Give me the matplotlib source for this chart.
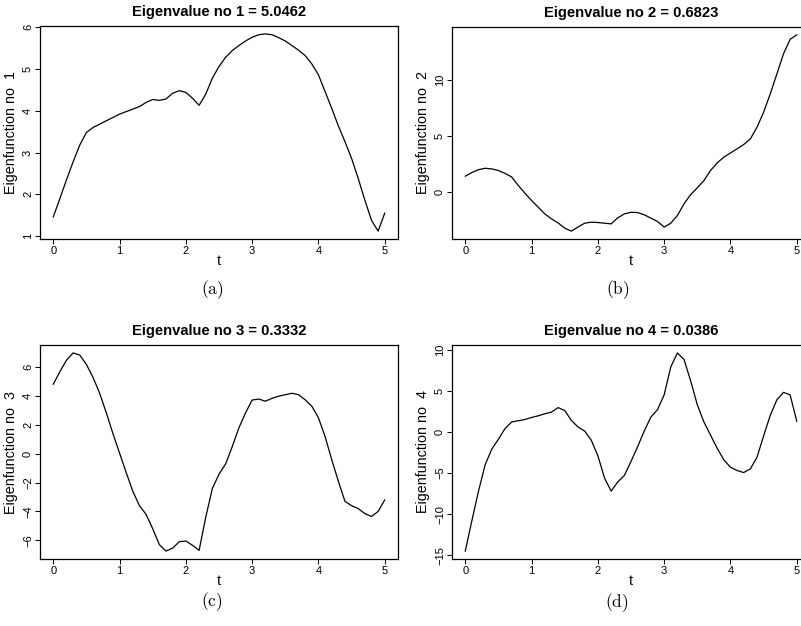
import matplotlib
matplotlib.use('Agg')
import matplotlib.pyplot as plt

plt.rcParams['font.family'] = ['Liberation Sans', 'DejaVu Sans']
plt.rcParams['mathtext.fontset'] = 'cm'

# time grid (every 0.1)
t = [round(0.1 * i, 1) for i in range(51)]

eigenvalues = ['5.0462', '0.6823', '0.3332', '0.0386']
captions = ['(a)', '(b)', '(c)', '(d)']

ef1 = [1.46, 1.90, 2.35, 2.78, 3.18, 3.48, 3.60, 3.68, 3.76, 3.84,
       3.92, 3.98, 4.04, 4.10, 4.20, 4.27, 4.25, 4.28, 4.42, 4.48,
       4.44, 4.30, 4.13, 4.40, 4.78, 5.06, 5.28, 5.44, 5.56, 5.67,
       5.76, 5.82, 5.84, 5.82, 5.75, 5.67, 5.56, 5.45, 5.32, 5.12,
       4.86, 4.46, 4.06, 3.64, 3.26, 2.86, 2.38, 1.86, 1.38, 1.12,
       1.55]
ef2 = [1.37, 1.70, 1.95, 2.08, 2.02, 1.88, 1.62, 1.30, 0.54, -0.15,
       -0.80, -1.40, -2.00, -2.44, -2.80, -3.27, -3.54, -3.18, -2.83, -2.74,
       -2.77, -2.83, -2.89, -2.35, -2.00, -1.85, -1.88, -2.08, -2.38, -2.68,
       -3.18, -2.83, -2.14, -1.10, -0.27, 0.33, 0.98, 1.88, 2.56, 3.07,
       3.45, 3.81, 4.20, 4.70, 5.74, 7.08, 8.72, 10.5, 12.3, 13.6,
       14.0]
ef3 = [4.83, 5.70, 6.50, 7.00, 6.85, 6.20, 5.30, 4.20, 2.85, 1.40,
       0.05, -1.30, -2.60, -3.60, -4.20, -5.20, -6.30, -6.75, -6.55, -6.10,
       -6.05, -6.35, -6.70, -4.40, -2.40, -1.42, -0.70, 0.50, 1.80, 2.84,
       3.73, 3.80, 3.65, 3.85, 4.00, 4.10, 4.20, 4.10, 3.75, 3.30,
       2.50, 1.20, -0.40, -1.90, -3.30, -3.60, -3.80, -4.15, -4.35, -4.00,
       -3.20]
ef4 = [-14.5, -10.8, -7.2, -4.0, -2.1, -0.9, 0.4, 1.2, 1.35, 1.5,
       1.75, 1.95, 2.2, 2.4, 2.95, 2.6, 1.4, 0.6, 0.1, -1.0,
       -2.9, -5.6, -7.2, -6.1, -5.3, -3.6, -1.8, 0.1, 1.8, 2.7,
       4.5, 7.9, 9.6, 8.8, 6.2, 3.3, 1.2, -0.4, -2.0, -3.4,
       -4.3, -4.7, -4.95, -4.5, -3.1, -0.5, 2.0, 3.9, 4.8, 4.5,
       1.3]
curves = [ef1, ef2, ef3, ef4]

yticks = [[1, 2, 3, 4, 5, 6],
          [0, 5, 10],
          [-6, -4, -2, 0, 2, 4, 6],
          [-15, -10, -5, 0, 5, 10]]

W, H = 801, 626
fig = plt.figure(figsize=(W / 100, H / 100), dpi=100)

# boxes in pixels: left, top, width, height
boxes = [(40, 26, 358, 213), (452, 27, 358, 212),
         (40, 345, 358, 214), (452, 345, 358, 214)]
cap_pos = [(212, 290), (618, 290), (212, 602), (617, 603)]

for i in range(4):
    l, top, w, h = boxes[i]
    ax = fig.add_axes([l / W, 1 - (top + h) / H, w / W, h / H])
    y = curves[i]
    ax.plot(t, y, color='black', lw=0.9)
    lo, hi = min(y), max(y)
    pad = 0.04 * (hi - lo)
    ax.set_ylim(lo - pad, hi + pad)
    ax.set_xlim(-0.2, 5.2)
    ax.set_xticks([0, 1, 2, 3, 4, 5])
    ax.set_yticks(yticks[i])
    ax.tick_params(direction='out', length=3.5, width=0.7, labelsize=8, pad=1.5)
    for lab in ax.get_yticklabels():
        lab.set_rotation(90)
        lab.set_va('center')
    for s in ax.spines.values():
        s.set_linewidth(0.9)
    ax.set_xlabel('t', fontsize=10.3)
    ax.xaxis.set_label_coords(0.5, -15 / h)
    ax.set_ylabel('Eigenfunction no  %d' % (i + 1), fontsize=10.3)
    ax.yaxis.set_label_coords(-22 / w, 0.5)
    ax.text(0.5, 1 + 14 / h, 'Eigenvalue no %d = %s' % (i + 1, eigenvalues[i]),
            transform=ax.transAxes, ha='center', va='center',
            fontsize=10.6, fontweight='bold')
    cx, cy = cap_pos[i]
    fig.text(cx / W, 1 - cy / H, r'$\mathrm{%s}$' % captions[i],
             ha='center', va='center', fontsize=12.5)

fig.savefig('out.png', dpi=100)
